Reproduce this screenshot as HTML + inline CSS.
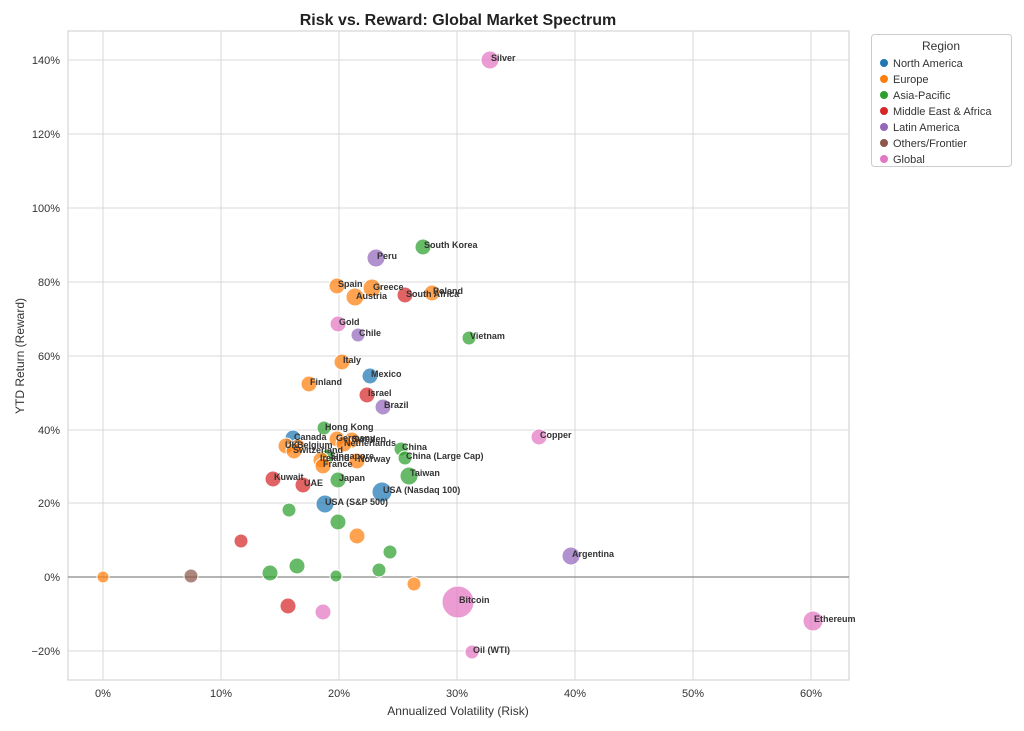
<!DOCTYPE html>
<html><head><meta charset="utf-8"><style>body{margin:0;background:#fff}svg{display:block;font-family:"Liberation Sans",Arial,sans-serif}</style></head><body>
<svg width="1024" height="731" viewBox="0 0 1024 731">
<rect x="68" y="31" width="781" height="649" fill="#fff" stroke="#ccc" stroke-width="1"/>
<g stroke="#d9d9d9" stroke-width="1">
<line x1="103" y1="31" x2="103" y2="680"/><line x1="221" y1="31" x2="221" y2="680"/><line x1="339" y1="31" x2="339" y2="680"/><line x1="457" y1="31" x2="457" y2="680"/><line x1="575" y1="31" x2="575" y2="680"/><line x1="693" y1="31" x2="693" y2="680"/><line x1="811" y1="31" x2="811" y2="680"/>
<line x1="68" y1="651" x2="849" y2="651"/><line x1="68" y1="503" x2="849" y2="503"/><line x1="68" y1="430" x2="849" y2="430"/><line x1="68" y1="356" x2="849" y2="356"/><line x1="68" y1="282" x2="849" y2="282"/><line x1="68" y1="208" x2="849" y2="208"/><line x1="68" y1="134" x2="849" y2="134"/><line x1="68" y1="60" x2="849" y2="60"/>
</g>
<line x1="68" y1="577" x2="849" y2="577" stroke="#888" stroke-width="1.3"/>
<g font-size="11" fill="#333" text-anchor="middle">
<text x="103" y="697">0%</text><text x="221" y="697">10%</text><text x="339" y="697">20%</text><text x="457" y="697">30%</text><text x="575" y="697">40%</text><text x="693" y="697">50%</text><text x="811" y="697">60%</text>
</g>
<g font-size="11" fill="#333" text-anchor="end">
<text x="60" y="655">−20%</text><text x="60" y="581">0%</text><text x="60" y="507">20%</text><text x="60" y="434">40%</text><text x="60" y="360">60%</text><text x="60" y="286">80%</text><text x="60" y="212">100%</text><text x="60" y="138">120%</text><text x="60" y="64">140%</text>
</g>
<text x="458" y="715" font-size="12" fill="#333" text-anchor="middle">Annualized Volatility (Risk)</text>
<text transform="translate(24,356) rotate(-90)" font-size="12" fill="#333" text-anchor="middle">YTD Return (Reward)</text>
<text x="458" y="25" font-size="16" font-weight="bold" fill="#222" text-anchor="middle">Risk vs. Reward: Global Market Spectrum</text>
<g stroke="#fff" stroke-width="1" fill-opacity="0.72">
<circle cx="490" cy="60" r="9" fill="#e377c2"/>
<circle cx="423" cy="247" r="8" fill="#2ca02c"/>
<circle cx="376" cy="258" r="9" fill="#9467bd"/>
<circle cx="337" cy="286" r="8" fill="#ff7f0e"/>
<circle cx="372" cy="288" r="9" fill="#ff7f0e"/>
<circle cx="355" cy="297" r="9" fill="#ff7f0e"/>
<circle cx="405" cy="295" r="8" fill="#d62728"/>
<circle cx="432" cy="293" r="8" fill="#ff7f0e"/>
<circle cx="338" cy="324" r="8" fill="#e377c2"/>
<circle cx="358" cy="335" r="7" fill="#9467bd"/>
<circle cx="469" cy="338" r="7" fill="#2ca02c"/>
<circle cx="342" cy="362" r="8" fill="#ff7f0e"/>
<circle cx="370" cy="376" r="8" fill="#1f77b4"/>
<circle cx="309" cy="384" r="8" fill="#ff7f0e"/>
<circle cx="367" cy="395" r="8" fill="#d62728"/>
<circle cx="383" cy="407" r="8" fill="#9467bd"/>
<circle cx="324" cy="428" r="7" fill="#2ca02c"/>
<circle cx="293" cy="438" r="8" fill="#1f77b4"/>
<circle cx="337" cy="439" r="8" fill="#ff7f0e"/>
<circle cx="352" cy="440" r="8" fill="#ff7f0e"/>
<circle cx="344" cy="444" r="8" fill="#ff7f0e"/>
<circle cx="286" cy="446" r="8" fill="#ff7f0e"/>
<circle cx="298" cy="446" r="7" fill="#ff7f0e"/>
<circle cx="294" cy="451" r="8" fill="#ff7f0e"/>
<circle cx="401" cy="449" r="7" fill="#2ca02c"/>
<circle cx="405" cy="458" r="7" fill="#2ca02c"/>
<circle cx="328" cy="456" r="7" fill="#2ca02c"/>
<circle cx="321" cy="460" r="8" fill="#ff7f0e"/>
<circle cx="357" cy="461" r="8" fill="#ff7f0e"/>
<circle cx="323" cy="466" r="8" fill="#ff7f0e"/>
<circle cx="273" cy="479" r="8" fill="#d62728"/>
<circle cx="303" cy="485" r="8" fill="#d62728"/>
<circle cx="338" cy="480" r="8" fill="#2ca02c"/>
<circle cx="409" cy="476" r="9" fill="#2ca02c"/>
<circle cx="382" cy="492" r="10" fill="#1f77b4"/>
<circle cx="325" cy="504" r="9" fill="#1f77b4"/>
<circle cx="539" cy="437" r="8" fill="#e377c2"/>
<circle cx="571" cy="556" r="9" fill="#9467bd"/>
<circle cx="289" cy="510" r="7" fill="#2ca02c"/>
<circle cx="338" cy="522" r="8" fill="#2ca02c"/>
<circle cx="241" cy="541" r="7" fill="#d62728"/>
<circle cx="357" cy="536" r="8" fill="#ff7f0e"/>
<circle cx="390" cy="552" r="7" fill="#2ca02c"/>
<circle cx="103" cy="577" r="6" fill="#ff7f0e"/>
<circle cx="191" cy="576" r="7" fill="#8c564b"/>
<circle cx="270" cy="573" r="8" fill="#2ca02c"/>
<circle cx="297" cy="566" r="8" fill="#2ca02c"/>
<circle cx="336" cy="576" r="6" fill="#2ca02c"/>
<circle cx="379" cy="570" r="7" fill="#2ca02c"/>
<circle cx="414" cy="584" r="7" fill="#ff7f0e"/>
<circle cx="288" cy="606" r="8" fill="#d62728"/>
<circle cx="323" cy="612" r="8" fill="#e377c2"/>
<circle cx="458" cy="602" r="16" fill="#e377c2"/>
<circle cx="813" cy="621" r="10" fill="#e377c2"/>
<circle cx="472" cy="652" r="7" fill="#e377c2"/>
</g>
<g font-size="9" font-weight="bold" fill="#333">
<text x="491" y="61">Silver</text><text x="424" y="248">South Korea</text><text x="377" y="259">Peru</text>
<text x="338" y="287">Spain</text><text x="373" y="290">Greece</text><text x="356" y="299">Austria</text>
<text x="406" y="297">South Africa</text><text x="433" y="294">Poland</text><text x="339" y="325">Gold</text>
<text x="359" y="336">Chile</text><text x="470" y="339">Vietnam</text><text x="343" y="363">Italy</text>
<text x="371" y="377">Mexico</text><text x="310" y="385">Finland</text><text x="368" y="396">Israel</text>
<text x="384" y="408">Brazil</text><text x="325" y="430">Hong Kong</text><text x="294" y="440">Canada</text>
<text x="336" y="441">Germany</text><text x="352" y="442">Sweden</text><text x="344" y="446">Netherlands</text>
<text x="285" y="448">UK</text><text x="297" y="448">Belgium</text><text x="293" y="453">Switzerland</text>
<text x="402" y="450">China</text><text x="406" y="459">China (Large Cap)</text><text x="330" y="459">Singapore</text>
<text x="320" y="461">Ireland</text><text x="358" y="462">Norway</text><text x="323" y="467">France</text>
<text x="274" y="480">Kuwait</text><text x="304" y="486">UAE</text><text x="339" y="481">Japan</text>
<text x="410" y="476">Taiwan</text><text x="383" y="493">USA (Nasdaq 100)</text><text x="325" y="505">USA (S&amp;P 500)</text>
<text x="540" y="438">Copper</text><text x="572" y="557">Argentina</text><text x="459" y="603">Bitcoin</text>
<text x="814" y="622">Ethereum</text><text x="473" y="653">Oil (WTI)</text>
</g>
<rect x="871.5" y="34.5" width="140" height="132" rx="3" fill="#fff" stroke="#ccc"/>
<text x="941" y="50" font-size="12" fill="#333" text-anchor="middle">Region</text>
<g font-size="11" fill="#333">
<circle cx="884" cy="63" r="4" fill="#1f77b4"/><text x="893" y="67">North America</text>
<circle cx="884" cy="79" r="4" fill="#ff7f0e"/><text x="893" y="83">Europe</text>
<circle cx="884" cy="95" r="4" fill="#2ca02c"/><text x="893" y="99">Asia-Pacific</text>
<circle cx="884" cy="111" r="4" fill="#d62728"/><text x="893" y="115">Middle East &amp; Africa</text>
<circle cx="884" cy="127" r="4" fill="#9467bd"/><text x="893" y="131">Latin America</text>
<circle cx="884" cy="143" r="4" fill="#8c564b"/><text x="893" y="147">Others/Frontier</text>
<circle cx="884" cy="159" r="4" fill="#e377c2"/><text x="893" y="163">Global</text>
</g>
</svg>
</body></html>
